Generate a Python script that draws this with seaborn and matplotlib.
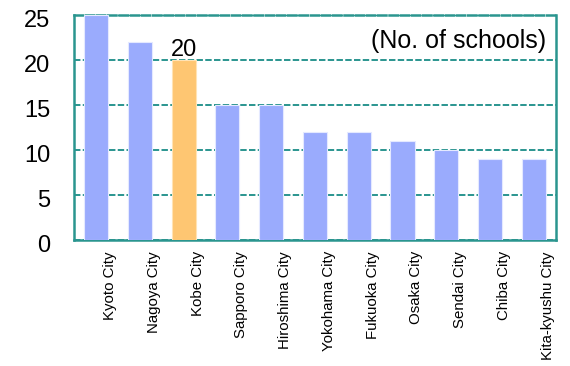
import pandas as pd
import seaborn as sns
import matplotlib.pyplot as plt
import matplotlib.transforms as mtransforms

# Number of schools per city
cities = ['Kyoto City', 'Nagoya City', 'Kobe City', 'Sapporo City', 'Hiroshima City',
          'Yokohama City', 'Fukuoka City', 'Osaka City', 'Sendai City', 'Chiba City',
          'Kita-kyushu City']
schools = [25, 22, 20, 15, 15, 12, 12, 11, 10, 9, 9]
highlight = 'Kobe City'

BLUE = '#9AABFD'
ORANGE = '#FEC672'
TEAL = '#2A958F'

df = pd.DataFrame({'city': cities, 'schools': schools})
palette = {c: (ORANGE if c == highlight else BLUE) for c in cities}

sns.set_style('white')
plt.rcParams['font.family'] = ['Liberation Sans', 'DejaVu Sans']
plt.rcParams['text.color'] = 'black'
plt.rcParams['xtick.color'] = 'black'
plt.rcParams['ytick.color'] = 'black'

fig = plt.figure(figsize=(5.7, 3.66), dpi=100)
ax = fig.add_axes([0.13, 0.344, 0.845, 0.615])

sns.barplot(data=df, x='city', y='schools', hue='city', palette=palette,
            saturation=1, width=0.55, legend=False, ax=ax, zorder=3)
for p in ax.patches:
    light = '#FFE3B5' if p.get_facecolor()[0] > 0.9 else '#E4E9FF'
    p.set_edgecolor(light)
    p.set_linewidth(0.8)

ax.set_ylim(0, 25)
ax.set_xlim(-0.5, len(cities) - 0.5)
ax.set_yticks([0, 5, 10, 15, 20, 25])
ax.grid(axis='y', color=TEAL, linestyle=(0, (3.3, 1.2)), linewidth=1.4, zorder=1)
ax.set_axisbelow(True)
for s in ax.spines.values():
    s.set_color(TEAL)
    s.set_linewidth(1.8)
    s.set_visible(True)
ax.spines['top'].set_linestyle((0, (3.3, 1.2)))

ax.tick_params(axis='y', length=0, labelsize=17, pad=17)
ax.tick_params(axis='x', length=0, labelsize=10.8, pad=8)
ax.set_xlabel('')
ax.set_ylabel('')
plt.setp(ax.get_xticklabels(), rotation=90, va='top', ha='center')
offset = mtransforms.ScaledTranslation(0.14, 0, fig.dpi_scale_trans)
for lbl in ax.get_xticklabels():
    lbl.set_transform(lbl.get_transform() + offset)
yoff = mtransforms.ScaledTranslation(0, -0.03, fig.dpi_scale_trans)
for lbl in ax.get_yticklabels():
    lbl.set_transform(lbl.get_transform() + yoff)

ki = cities.index(highlight)
ax.text(ki, schools[ki] - 0.1, str(schools[ki]), ha='center', va='bottom', fontsize=17)
ax.text(0.98, 0.885, '(No. of schools)', transform=ax.transAxes,
        ha='right', va='center', fontsize=18)

fig.savefig('out.png', dpi=100)
